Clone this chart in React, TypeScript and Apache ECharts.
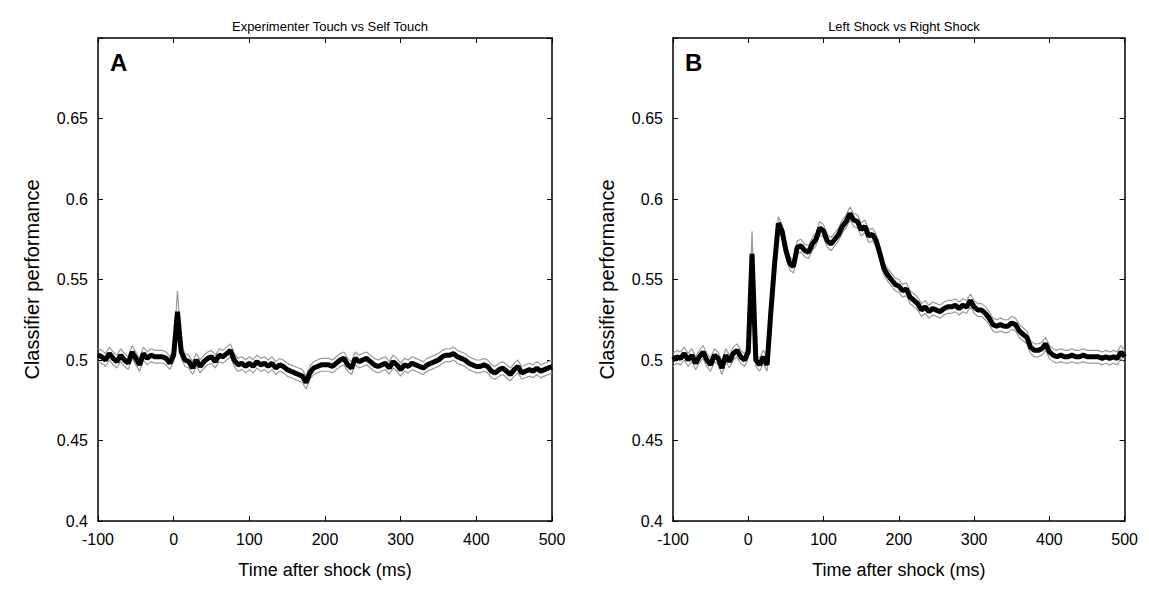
import * as echarts from "echarts";
import React, { useEffect, useRef } from "react";

// time step of the sampled curves (ms), starting at -100
const t0 = -100;
const step = 5;

const titles = ["Experimenter Touch vs Self Touch", "Left Shock vs Right Shock"];
const panelLetters = ["A", "B"];
const yTicks = [0.4, 0.45, 0.5, 0.55, 0.6, 0.65];

const meanA = [
  0.503, 0.502, 0.5, 0.504, 0.501, 0.499, 0.503, 0.5, 0.498, 0.505, 0.501, 0.497, 0.504, 0.501, 0.503, 0.502,
  0.502, 0.502, 0.501, 0.498, 0.503, 0.53, 0.505, 0.5, 0.499, 0.495, 0.5, 0.496, 0.499, 0.501, 0.502, 0.499,
  0.503, 0.502, 0.504, 0.506, 0.5, 0.497, 0.498, 0.496, 0.498, 0.496, 0.499, 0.497, 0.498, 0.496, 0.498, 0.495,
  0.497, 0.496, 0.494, 0.493, 0.492, 0.491, 0.49, 0.486, 0.492, 0.495, 0.496, 0.497, 0.497, 0.497, 0.496, 0.498,
  0.5, 0.501, 0.497, 0.495, 0.501, 0.499, 0.5, 0.501, 0.499, 0.497, 0.496, 0.497, 0.498, 0.495, 0.499, 0.497,
  0.494, 0.497, 0.496, 0.498, 0.497, 0.496, 0.495, 0.497, 0.498, 0.499, 0.5, 0.502, 0.503, 0.503, 0.504, 0.502,
  0.501, 0.5, 0.498, 0.497, 0.496, 0.496, 0.497, 0.496, 0.493, 0.492, 0.494, 0.495, 0.493, 0.491, 0.494, 0.496,
  0.492, 0.493, 0.494, 0.493, 0.495, 0.493, 0.494, 0.495, 0.496,
];

const meanB = [
  0.5, 0.502, 0.501, 0.504, 0.5, 0.503, 0.498, 0.502, 0.505, 0.5, 0.497, 0.503, 0.501, 0.495, 0.503, 0.499,
  0.504, 0.506, 0.502, 0.5, 0.505, 0.566, 0.5, 0.497, 0.502, 0.497, 0.53, 0.56, 0.585, 0.58, 0.568, 0.56,
  0.558, 0.57, 0.571, 0.568, 0.567, 0.572, 0.575, 0.582, 0.58, 0.574, 0.572, 0.575, 0.578, 0.583, 0.586, 0.591,
  0.587, 0.586, 0.581, 0.583, 0.577, 0.578, 0.574, 0.566, 0.557, 0.553, 0.55, 0.547, 0.546, 0.543, 0.544, 0.539,
  0.537, 0.535, 0.531, 0.533, 0.53, 0.532, 0.531, 0.53, 0.532, 0.533, 0.533, 0.534, 0.532, 0.534, 0.533, 0.537,
  0.533, 0.531, 0.531, 0.529, 0.526, 0.522, 0.521, 0.522, 0.521, 0.521, 0.523, 0.522, 0.518, 0.516, 0.514, 0.508,
  0.506, 0.506, 0.507, 0.51, 0.505, 0.503, 0.502, 0.503, 0.502, 0.502, 0.503, 0.502, 0.502, 0.503, 0.502, 0.502,
  0.502, 0.502, 0.501, 0.502, 0.501, 0.502, 0.501, 0.505, 0.502,
];

// standard error half-width; larger at the 5 ms spike
const semBase = 0.004;
const semSpikeA = 0.013;
const semSpikeB = 0.014;
const spikeIndex = 21;

const pairs = (vals: number[]) => vals.map((v, i) => [t0 + i * step, v]);
const band = (vals: number[], spike: number, sign: number) =>
  vals.map((v, i) => [t0 + i * step, v + sign * (i === spikeIndex ? spike : semBase)]);

const font = "Liberation Sans, Arial, sans-serif";

const App: React.FC = () => {
  const chartRef = useRef<HTMLDivElement | null>(null);

  useEffect(() => {
    if (!chartRef.current) return;
    const chart = echarts.init(chartRef.current, null, { renderer: "svg" });

    const grids = [
      { left: 90, top: 30, width: 454, height: 488 },
      { left: 665, top: 30, width: 452, height: 488 },
    ];

    const xAxes: any[] = [];
    const yAxes: any[] = [];
    grids.forEach((_, g) => {
      const line = { onZero: false, lineStyle: { color: "#000", width: 1.5 } };
      const tick = { inside: true, length: 5, lineStyle: { color: "#000" } };
      xAxes.push({
        type: "value", gridIndex: g, min: -100, max: 500, interval: 100,
        name: "Time after shock (ms)", nameLocation: "middle", nameGap: 40,
        nameTextStyle: { fontSize: 18, color: "#000", fontFamily: font },
        axisLine: line, axisTick: tick,
        axisLabel: { fontSize: 16, color: "#000", fontFamily: font, margin: 10 },
        splitLine: { show: false },
      });
      xAxes.push({
        type: "value", gridIndex: g, position: "top", min: -100, max: 500, interval: 100,
        axisLine: line, axisTick: tick,
        axisLabel: { show: false }, splitLine: { show: false },
      });
      yAxes.push({
        type: "value", gridIndex: g, position: "left", min: 0.4, max: 0.7, interval: 0.05,
        name: "Classifier performance", nameLocation: "middle", nameGap: 56,
        nameTextStyle: { fontSize: 20, color: "#000", fontFamily: font },
        axisLine: line, axisTick: tick,
        axisLabel: {
          fontSize: 16, color: "#000", fontFamily: font, margin: 10,
          formatter: (v: number) => (yTicks.some((t) => Math.abs(t - v) < 1e-6) ? String(+v.toFixed(2)) : ""),
        },
        splitLine: { show: false },
      });
      yAxes.push({
        type: "value", gridIndex: g, position: "right", min: 0.4, max: 0.7, interval: 0.05,
        axisLine: line, axisTick: tick,
        axisLabel: { show: false }, splitLine: { show: false },
      });
    });

    const lineSeries = (data: number[][], g: number, color: string, width: number) => ({
      type: "line", xAxisIndex: g * 2, yAxisIndex: g * 2, data, showSymbol: false,
      lineStyle: { color, width }, z: width > 2 ? 3 : 2,
    });

    const option: any = {
      animation: false,
      grid: grids,
      xAxis: xAxes,
      yAxis: yAxes,
      title: titles.map((text, g) => ({
        text, left: grids[g].left + grids[g].width / 2, top: 7, textAlign: "center",
        textStyle: { fontSize: 13, fontWeight: "normal", color: "#000", fontFamily: font },
      })),
      graphic: panelLetters.map((l, g) => ({
        type: "text", left: grids[g].left + 12, top: 42,
        style: { text: l, fontSize: 24, fontWeight: "bold", fill: "#000", fontFamily: font },
      })),
      series: [
        lineSeries(band(meanA, semSpikeA, 1), 0, "#999", 1.2),
        lineSeries(band(meanA, semSpikeA, -1), 0, "#999", 1.2),
        lineSeries(pairs(meanA), 0, "#000", 5),
        lineSeries(band(meanB, semSpikeB, 1), 1, "#999", 1.2),
        lineSeries(band(meanB, semSpikeB, -1), 1, "#999", 1.2),
        lineSeries(pairs(meanB), 1, "#000", 5),
      ],
    };

    chart.setOption(option);
    return () => chart.dispose();
  }, []);

  return <div ref={chartRef} style={{ width: "1133px", height: "576px" }} />;
};

export default App;
